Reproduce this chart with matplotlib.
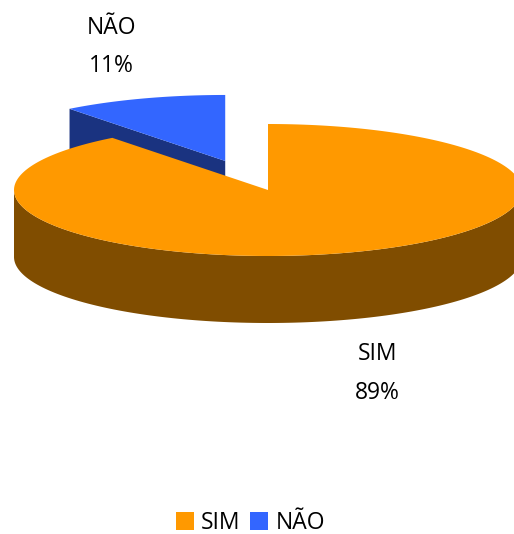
import numpy as np
import matplotlib
matplotlib.use("Agg")
import matplotlib.pyplot as plt
from matplotlib.patches import Polygon, Patch

categories = ["SIM", "NÃO"]
values = [89.5, 10.5]
labels = ["SIM\n89%", "NÃO\n11%"]
top_colors = ["#FF9900", "#3366FF"]
side_colors = ["#804D00", "#1A3380"]

W, H = 514, 534
CX, CY, RX, RY, DEPTH = 268, 190, 254, 66, 67
EXPLODE_X = [0.0, 0.52]
EXPLODE_Y = [0.0, 0.465]
LABEL_XY = [(377.5, 373.5), (111.5, 47)]

plt.rcParams['font.family'] = ['Open Sans', 'DejaVu Sans']
fig = plt.figure(figsize=(W / 100, H / 100), dpi=100)
ax = fig.add_axes([0, 0, 1, 1])
ax.set_xlim(0, W)
ax.set_ylim(H, 0)
ax.axis("off")

fracs = np.array(values, float) / sum(values)
starts = np.r_[0, np.cumsum(fracs)[:-1]] * 2 * np.pi   # clockwise from 12 o'clock
ends = np.cumsum(fracs) * 2 * np.pi


def geom(i):
    mid = (starts[i] + ends[i]) / 2
    ox = CX + EXPLODE_X[i] * RX * np.sin(mid)
    oy = CY - EXPLODE_Y[i] * RY * np.cos(mid)
    t = np.linspace(starts[i], ends[i], 240)
    return ox, oy, ox + RX * np.sin(t), oy - RY * np.cos(t)


for i in [1, 0]:
    ox, oy, xs, ys = geom(i)
    if i == 1:
        # visible cut face, from the apex to the arc's start
        face = [(ox, oy), (xs[0], ys[0]), (xs[0], ys[0] + DEPTH), (ox, oy + DEPTH)]
        ax.add_patch(Polygon(face, closed=True, fc=side_colors[i], ec="none"))
    else:
        # outer wall: only the front half of the arc is visible
        front = np.cos(np.linspace(starts[i], ends[i], 240)) <= 0
        wall = np.r_[np.c_[xs[front], ys[front]],
                     np.c_[xs[front], ys[front] + DEPTH][::-1]]
        ax.add_patch(Polygon(wall, closed=True, fc=side_colors[i], ec="none"))
    ax.add_patch(Polygon(np.r_[[(ox, oy)], np.c_[xs, ys]], closed=True,
                         fc=top_colors[i], ec="none"))

for (x, y), text in zip(LABEL_XY, labels):
    ax.text(x, y, text, ha="center", va="center", fontsize=16.5,
            color="black", linespacing=1.78)

handles = [Patch(fc=c, ec="none") for c in top_colors]
ax.legend(handles, categories, loc="center", bbox_to_anchor=(250.5 / W, 1 - 523 / H),
          ncol=2, frameon=False, fontsize=16.5, handlelength=0.79, handleheight=0.79,
          handletextpad=0.33, columnspacing=0.42, borderpad=0, labelcolor="black")

fig.savefig("out.png", dpi=100)
